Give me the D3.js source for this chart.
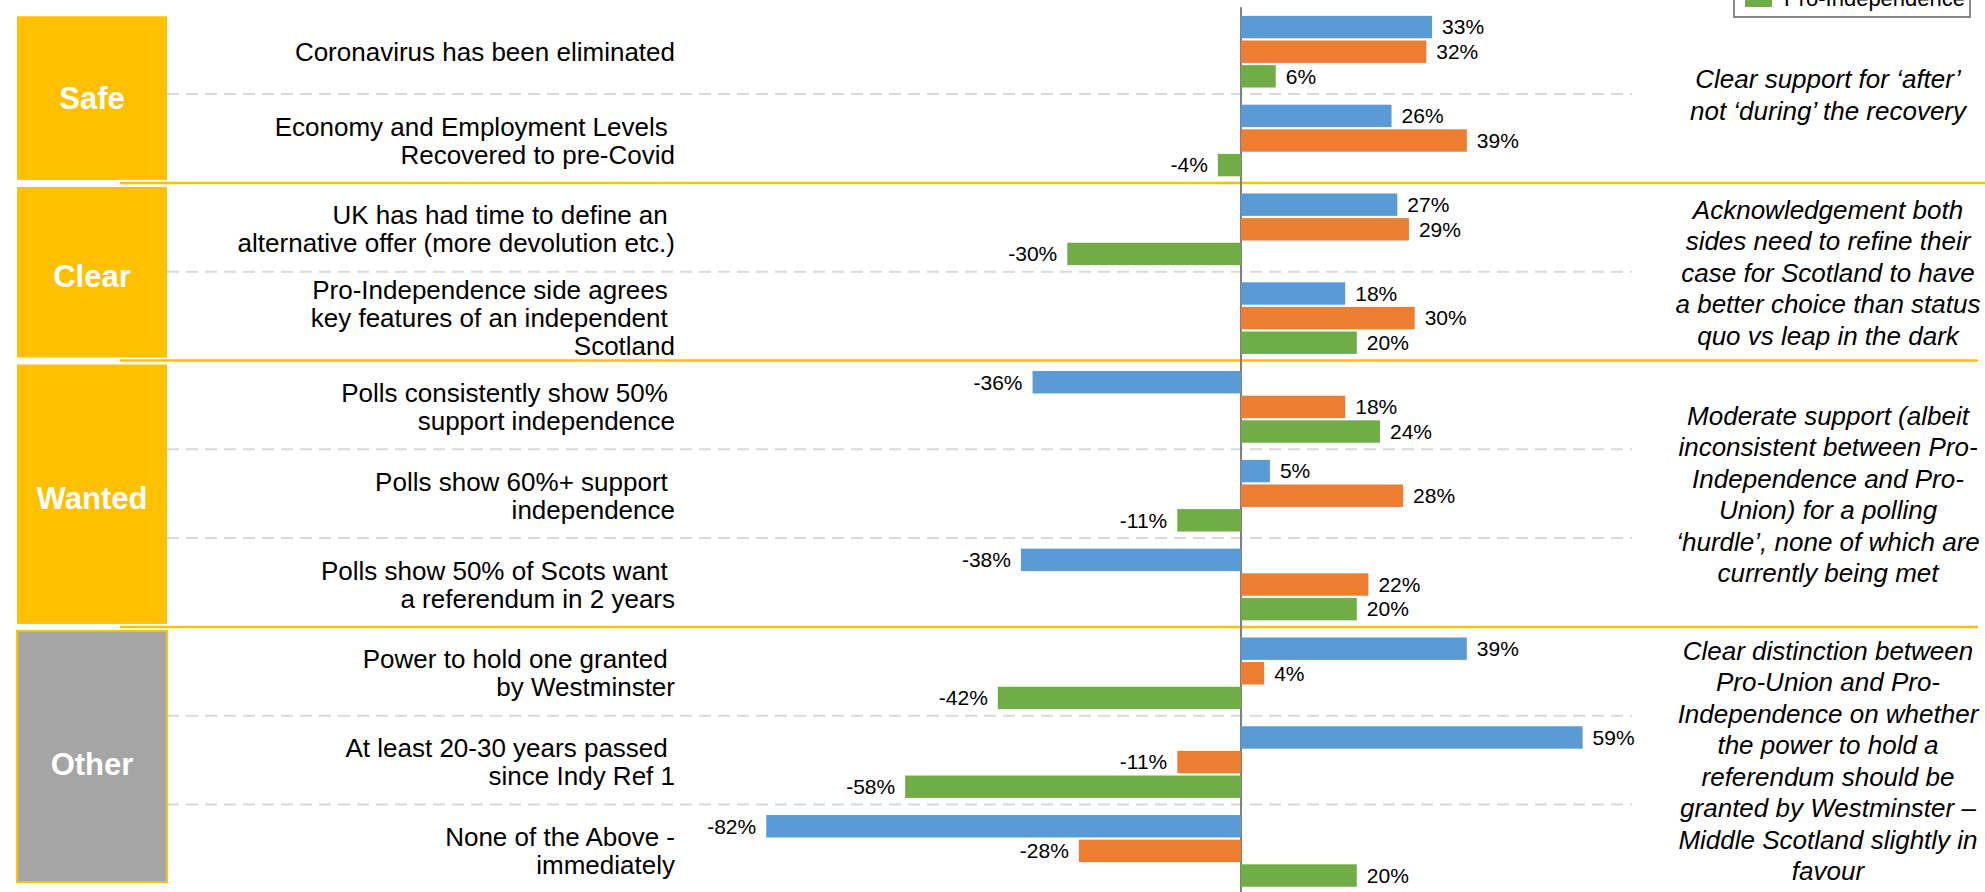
<!DOCTYPE html>
<html>
<head>
<meta charset="utf-8">
<script src="https://d3js.org/d3.v7.min.js"></script>
<style>
body { margin: 0; background: #fff; }
svg text { font-family: "Liberation Sans", Arial, sans-serif; white-space: pre; }
</style>
</head>
<body>
<svg width="1985" height="892"></svg>
<script>
// categories (label lines, as wrapped in the original)
var categories = [
    ["Coronavirus has been eliminated"],
    ["Economy and Employment Levels ", "Recovered to pre-Covid"],
    ["UK has had time to define an ", "alternative offer (more devolution etc.)"],
    ["Pro-Independence side agrees ", "key features of an independent ", "Scotland"],
    ["Polls consistently show 50% ", "support independence"],
    ["Polls show 60%+ support ", "independence"],
    ["Polls show 50% of Scots want ", "a referendum in 2 years"],
    ["Power to hold one granted ", "by Westminster"],
    ["At least 20-30 years passed ", "since Indy Ref 1"],
    ["None of the Above -", "immediately"]
];

var proUnion        = [33, 26, 27, 18, -36, 5, -38, 39, 59, -82];
var middleScotland  = [32, 39, 29, 30, 18, 28, 22, 4, -11, -28];
var proIndependence = [6, -4, -30, 20, 24, -11, 20, -42, -58, 20];

var seriesNames  = ["Pro-Union", "Middle Scotland", "Pro-Independence"];
var seriesColors = ["#5B9BD5", "#ED7D31", "#70AD47"];

var groupNames  = ["Safe", "Clear", "Wanted", "Other"];
var groupSizes  = [2, 2, 3, 3];
var groupColors = ["#FFC000", "#FFC000", "#FFC000", "#A5A5A5"];

var notes = [
    ["Clear support for \u2018after\u2019", "not \u2018during\u2019 the recovery"],
    ["Acknowledgement both", "sides need to refine their", "case for Scotland to have", "a better choice than status", "quo vs leap in the dark"],
    ["Moderate support (albeit", "inconsistent between Pro-", "Independence and Pro-", "Union) for a polling", "\u2018hurdle\u2019, none of which are", "currently being met"],
    ["Clear distinction between", "Pro-Union and Pro-", "Independence on whether", "the power to hold a", "referendum should be", "granted by Westminster \u2013", "Middle Scotland slightly in", "favour"]
];

var series = [proUnion, middleScotland, proIndependence];
var svg = d3.select("svg");

var zeroX = 1241, pxPerPct = 5.79;
var x = d3.scaleLinear()
    .domain([-90, 70])
    .range([zeroX - 90 * pxPerPct, zeroX + 70 * pxPerPct]);

var y = d3.scaleBand()
    .domain(d3.range(categories.length))
    .range([7.3, 895.3])
    .paddingInner(0.193)
    .paddingOuter(0.0965);

var ySub = d3.scaleBand()
    .domain(d3.range(seriesNames.length))
    .range([0, y.bandwidth()])
    .paddingInner(0.09);

function boundary(i) { return y(0) - y.step() * 0.0965 + i * y.step(); }

// group start indices
var starts = [], acc = 0;
groupSizes.forEach(function(n) { starts.push(acc); acc += n; });

// dashed category gridlines (inside groups)
var dashIdx = [];
starts.forEach(function(s, gi) {
    for (var k = 1; k < groupSizes[gi]; k++) dashIdx.push(s + k);
});
svg.append("g").selectAll("line")
    .data(dashIdx)
    .enter().append("line")
    .attr("x1", 167).attr("x2", 1632)
    .attr("y1", function(d) { return boundary(d) - 2; })
    .attr("y2", function(d) { return boundary(d) - 2; })
    .attr("stroke", "#D9D9D9")
    .attr("stroke-width", 2)
    .attr("stroke-dasharray", "12,7");

// yellow group separators
svg.append("g").selectAll("line")
    .data(starts.slice(1))
    .enter().append("line")
    .attr("x1", 120).attr("x2", function(d, i) { return i == 0 ? 1985 : 1978; })
    .attr("y1", function(d) { return boundary(d) - 2; })
    .attr("y2", function(d) { return boundary(d) - 2; })
    .attr("stroke", "#FFC000")
    .attr("stroke-width", 2.5);

// group boxes
var boxes = svg.append("g").selectAll("g")
    .data(groupNames)
    .enter().append("g");

boxes.append("rect")
    .attr("x", 17).attr("width", 150)
    .attr("y", function(d, i) { return boundary(starts[i]) + (i == 0 ? 9 : 2); })
    .attr("height", function(d, i) {
        var top = boundary(starts[i]) + (i == 0 ? 9 : 2);
        var bot = Math.min(boundary(starts[i] + groupSizes[i]) - 5, 882);
        return bot - top;
    })
    .attr("fill", function(d, i) { return groupColors[i]; })
    .attr("stroke", "#FFC000")
    .attr("stroke-width", function(d, i) { return i == 3 ? 2 : 0; });

boxes.append("text")
    .attr("x", 92)
    .attr("y", function(d, i) { return (boundary(starts[i]) + boundary(starts[i] + groupSizes[i])) / 2 + 2; })
    .attr("dy", "0.35em")
    .attr("text-anchor", "middle")
    .attr("fill", "#fff")
    .style("font-size", "31px")
    .style("font-weight", "bold")
    .text(function(d) { return d; });

// category labels
var labels = svg.append("g").selectAll("text")
    .data(categories)
    .enter().append("text")
    .attr("text-anchor", "end")
    .attr("xml:space", "preserve")
    .style("font-size", "26px")
    .attr("fill", "#000");

labels.each(function(lines, i) {
    var cy = y(i) + y.bandwidth() / 2;
    var first = cy - (lines.length - 1) / 2 * 28 + 9;
    d3.select(this).selectAll("tspan")
        .data(lines)
        .enter().append("tspan")
        .attr("x", 675)
        .attr("y", function(d, k) { return first + k * 28; })
        .text(function(d) { return d; });
});

// axis line
svg.append("line")
    .attr("x1", x(0)).attr("x2", x(0))
    .attr("y1", 7.3).attr("y2", 892)
    .attr("stroke", "#808080")
    .attr("stroke-width", 2);

// bars
var rows = [];
categories.forEach(function(c, i) {
    series.forEach(function(s, j) { rows.push({ cat: i, ser: j, v: s[i] }); });
});

svg.append("g").selectAll("rect")
    .data(rows)
    .enter().append("rect")
    .attr("x", function(d) { return x(Math.min(0, d.v)); })
    .attr("width", function(d) { return Math.abs(x(d.v) - x(0)); })
    .attr("y", function(d) { return y(d.cat) + ySub(d.ser); })
    .attr("height", ySub.bandwidth())
    .attr("fill", function(d) { return seriesColors[d.ser]; });

svg.append("g").selectAll("text")
    .data(rows)
    .enter().append("text")
    .attr("x", function(d) { return d.v >= 0 ? x(d.v) + 10 : x(d.v) - 10; })
    .attr("y", function(d) { return y(d.cat) + ySub(d.ser) + ySub.bandwidth() / 2; })
    .attr("dy", "0.35em")
    .attr("text-anchor", function(d) { return d.v >= 0 ? "start" : "end"; })
    .style("font-size", "21px")
    .attr("fill", "#000")
    .text(function(d) { return d.v + "%"; });

// notes on the right
var noteText = svg.append("g").selectAll("text")
    .data(notes)
    .enter().append("text")
    .attr("text-anchor", "middle")
    .style("font-size", "26px")
    .style("font-style", "italic")
    .attr("fill", "#000");

noteText.each(function(lines, gi) {
    var cy = (boundary(starts[gi]) + boundary(starts[gi] + groupSizes[gi])) / 2;
    var first = cy - (lines.length - 1) / 2 * 31.5 + 8;
    d3.select(this).selectAll("tspan")
        .data(lines)
        .enter().append("tspan")
        .attr("x", 1828)
        .attr("y", function(d, k) { return first + k * 31.5; })
        .text(function(d) { return d; });
});

// legend (mostly above the visible area, as in the original)
var legend = svg.append("g");
legend.append("rect")
    .attr("x", 1734).attr("y", -90)
    .attr("width", 236).attr("height", 107)
    .attr("fill", "#fff")
    .attr("stroke", "#888")
    .attr("stroke-width", 2);

var li = legend.selectAll("g")
    .data(seriesNames)
    .enter().append("g")
    .attr("transform", function(d, i) { return "translate(0," + (-61.5 + i * 30) + ")"; });
li.append("rect")
    .attr("x", 1745).attr("y", -8.5)
    .attr("width", 27).attr("height", 17)
    .attr("fill", function(d, i) { return seriesColors[i]; });
li.append("text")
    .attr("x", 1784).attr("dy", "0.35em")
    .style("font-size", "22px")
    .attr("fill", "#000")
    .text(function(d) { return d; });
</script>
</body>
</html>
